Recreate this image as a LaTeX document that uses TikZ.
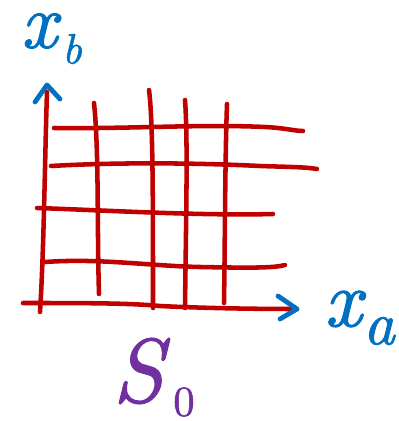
\documentclass[tikz,border=0pt]{standalone}
\usepackage{fontspec}
\newfontface\handit{lmroman10-italic.otf}[FakeBold=1.3]
\newfontface\handup{lmroman10-regular.otf}[FakeBold=1.3]
\definecolor{gridred}{HTML}{C00000}
\definecolor{axblue}{HTML}{0070C0}
\definecolor{lblpurple}{HTML}{7030A0}
\begin{document}
\begin{tikzpicture}[x=0.75pt,y=-0.75pt,
  gridline/.style={draw=gridred,line width=3.4pt,line cap=round,line join=round},
  chevron/.style={draw=axblue,line width=3.6pt,line cap=round,line join=round},
  bluelbl/.style={text=axblue,inner sep=0pt,font=\handit},
  purplelbl/.style={text=lblpurple,inner sep=0pt,font=\handit}]
\useasboundingbox (0,0) rectangle (399,421);
% horizontal grid lines
\draw[gridline] (54,128) .. controls (130,129) and (200,124) .. (265,127) .. controls (285,128) and (295,131) .. (303,131);
\draw[gridline] (51,166) .. controls (120,162) and (200,163) .. (260,166) .. controls (290,167) and (305,167) .. (317,169);
\draw[gridline] (37,208) .. controls (100,210) and (200,216) .. (273,214);
\draw[gridline] (45,262) .. controls (100,258) and (150,266) .. (200,267) .. controls (250,268) and (275,268) .. (285,265);
\draw[gridline] (23,303) .. controls (80,303) and (130,303) .. (160,306) .. controls (200,308) and (250,309) .. (297,309);
% vertical grid lines
\draw[gridline] (47,92) .. controls (45,150) and (44,250) .. (40,312);
\draw[gridline] (94,103) .. controls (99,150) and (97,230) .. (99,294);
\draw[gridline] (149,90) .. controls (153,120) and (153,200) .. (153,308);
\draw[gridline] (185,100) .. controls (188,140) and (186,220) .. (185,308);
\draw[gridline] (227,104) .. controls (225,160) and (225,240) .. (224,303);
% arrowheads
\draw[chevron] (35,102) -- (47,85) -- (60,99);
\draw[chevron] (278,296) -- (297,309) -- (280,319);
% labels
\node[bluelbl] (xbx) at (39,31) {\fontsize{58}{60}\selectfont x};
\node[bluelbl] (xbb) at (72,49) {\fontsize{32}{34}\selectfont b};
\node[bluelbl] (xax) at (343,309) {\fontsize{60}{62}\selectfont x};
\node[bluelbl] (xaa) at (379,331) {\fontsize{46}{48}\selectfont a};
\node[purplelbl] (s0s) at (138,371) {\fontsize{68}{70}\selectfont S};
\node[purplelbl] (s00) at (184,402) {\fontsize{32}{34}\selectfont\handup 0};
\end{tikzpicture}
\end{document}
